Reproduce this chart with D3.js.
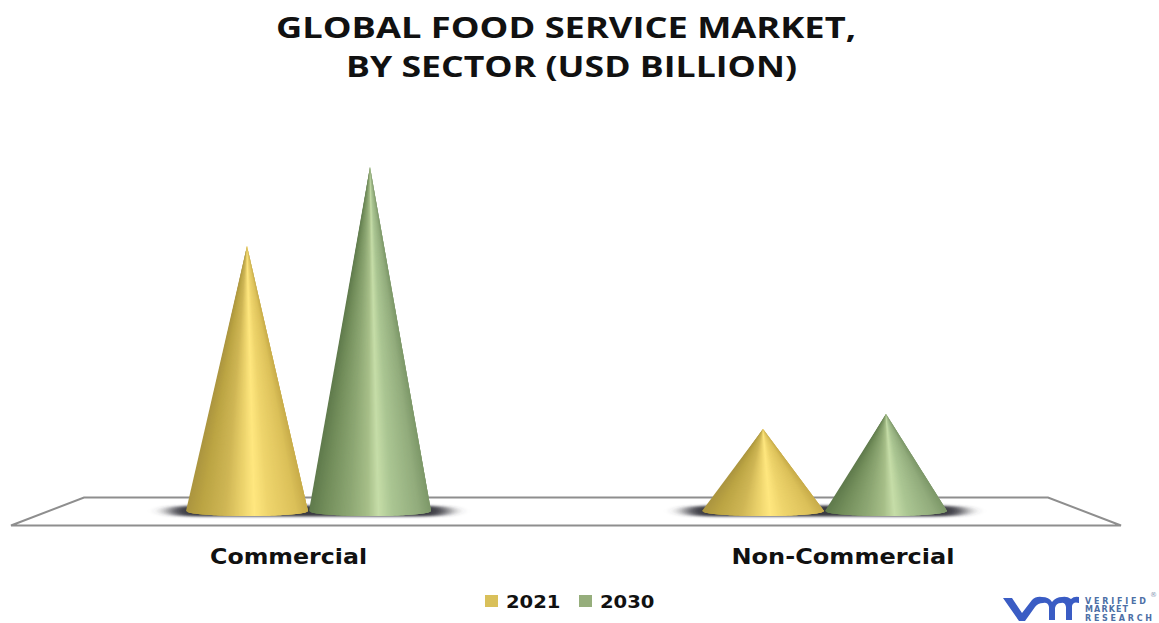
<!DOCTYPE html>
<html>
<head>
<meta charset="utf-8">
<script src="https://cdn.jsdelivr.net/npm/d3@7"></script>
<style>
  html, body { margin: 0; padding: 0; background: #fff; }
  svg { display: block; }
  text { fill: #111; }
</style>
</head>
<body>
<svg id="chart" width="1159" height="623"></svg>
<script>
// Market size per sector, in relative units (the chart has no printed value axis)
const categories = ["Commercial", "Non-Commercial"];
const years = ["2021", "2030"];
const values2021 = [265, 82];
const values2030 = [344, 97];
const titleLines = ["GLOBAL FOOD SERVICE MARKET,", "BY SECTOR (USD BILLION)"];

const seriesValues = { "2021": values2021, "2030": values2030 };
const svg = d3.select("#chart");
const defs = svg.append("defs");

// Shading across the cone's base, from its left rim to its right rim
const shades = {
  "2021": [[0, "#ab953f"], [0.12, "#bba443"], [0.32, "#cfb655"], [0.46, "#ecd36c"], [0.56, "#ffe77f"],
           [0.68, "#eed46c"], [0.9, "#dcc15a"], [1, "#c8ac4a"]],
  "2030": [[0, "#5f7a4c"], [0.14, "#748f5c"], [0.34, "#8ea874"], [0.48, "#a6be88"], [0.57, "#c6dda8"],
           [0.68, "#abc693"], [0.9, "#92ac7c"], [1, "#7d9869"]]
};
const shadeScale = {};
years.forEach(yr => {
  shadeScale[yr] = d3.scaleLinear()
    .domain(shades[yr].map(s => s[0]))
    .range(shades[yr].map(s => s[1]))
    .interpolate(d3.interpolateRgb);
});

defs.append("filter").attr("id", "soft").attr("x", "-15%").attr("width", "130%")
  .attr("y", "-100%").attr("height", "300%")
  .append("feGaussianBlur").attr("stdDeviation", "9 1.2");

// Scales: cones stand on the floor, height is proportional to the value
const x = d3.scaleBand().domain(categories).range([50.5, 1082.5]);
const xInner = d3.scaleBand().domain(years).range([-123, 123]);
const y = d3.scaleLinear().domain([0, 344]).range([511, 167]);

// Floor plane
const floorPts = [[11, 525.5], [84, 497.5], [1048, 497.5], [1121, 525.5]];
svg.append("path")
  .attr("d", d3.line()(floorPts) + "Z")
  .attr("fill", "#fff").attr("stroke", "#8e8e8e").attr("stroke-width", 2);

const centre = c => x(c) + x.bandwidth() / 2;

// Shadows beneath each pair of cones
svg.append("g").selectAll("rect").data(categories).join("rect")
  .attr("x", c => centre(c) - 140)
  .attr("y", 505.5)
  .attr("width", 281)
  .attr("height", 11)
  .attr("rx", 24)
  .attr("ry", 5.5)
  .attr("fill", "#3a3a42")
  .attr("filter", "url(#soft)");

// Cones: each is a fan of wedges from the tip, so the highlight narrows towards it.
// Every wedge overlaps the next one, which keeps the seams between them hidden.
const ry = 5;
const wedges = 90;
const radius = xInner.bandwidth() / 2 - 0.5;
const marks = categories.flatMap((c, i) =>
  years.map(yr => ({ c, yr, v: seriesValues[yr][i] })));
const cones = svg.append("g").selectAll("g").data(marks).join("g");
cones.selectAll("path")
  .data(d => d3.range(wedges).map(k => ({ ...d, k })))
  .join("path")
  .attr("d", d => {
    const cx = centre(d.c) + xInner(d.yr) + xInner.bandwidth() / 2;
    const rim = t => {
      const u = 2 * t - 1;
      return [cx + radius * u, y(0) + ry * Math.sqrt(Math.max(0, 1 - u * u))];
    };
    const p = d3.path();
    p.moveTo(cx, y(d.v));
    p.lineTo(...rim(d.k / wedges));
    p.lineTo(...rim(Math.min(1, (d.k + 1.5) / wedges)));
    p.lineTo(...rim(Math.min(1, (d.k + 3) / wedges)));
    p.closePath();
    return p.toString();
  })
  .attr("fill", d => shadeScale[d.yr]((d.k + 0.5) / wedges));

// Category labels sit slightly outboard of their cone pairs
const labelDx = d3.scaleOrdinal().domain(categories).range([-20, 18.5]);
const labelLen = d3.scaleOrdinal().domain(categories).range([157, 223]);
const axis = svg.append("g").attr("transform", "translate(0,548)")
  .call(d3.axisBottom(x).tickSize(0).tickPadding(0));
axis.select(".domain").remove();
axis.selectAll("text")
  .attr("dy", "0.8em")
  .attr("x", d => labelDx(d))
  .attr("textLength", d => labelLen(d))
  .attr("lengthAdjust", "spacingAndGlyphs")
  .style("font", "bold 20.5px 'DejaVu Sans'")
  .style("fill", "#111");

// Title
svg.append("g").selectAll("text").data(titleLines).join("text")
  .attr("x", (d, i) => i ? 571.5 : 566)
  .attr("y", (d, i) => i ? 77 : 38)
  .attr("text-anchor", "middle")
  .attr("textLength", (d, i) => i ? 451 : 580)
  .attr("lengthAdjust", "spacingAndGlyphs")
  .style("font", "bold 29px 'Open Sans'")
  .text(d => d);

// Legend
const legendColors = { "2021": "#d9c05a", "2030": "#96ae7c" };
const legendX = d3.scaleOrdinal().domain(years).range([485, 579]);
const legend = svg.append("g").selectAll("g").data(years).join("g")
  .attr("transform", d => `translate(${legendX(d)},0)`);
legend.append("rect").attr("y", 595).attr("width", 13).attr("height", 12)
  .attr("fill", d => legendColors[d]);
legend.append("text").attr("x", 21).attr("y", 607.5)
  .attr("textLength", 54.5)
  .attr("lengthAdjust", "spacingAndGlyphs")
  .style("font", "bold 18.5px 'DejaVu Sans'")
  .text(d => d);

// Publisher mark
const logo = svg.append("g");
logo.append("path")
  .attr("d", "M1003 598 L1012 598 L1022 613 L1032 600 Q1036 596 1042 597 Q1049 597 1052 602 Q1056 597 1062 597 Q1067 596 1071 599 Q1074 596 1079 597 L1079 603 Q1073 601 1072 606 L1072 620 L1066 620 L1066 607 Q1065 602 1061 603 Q1056 603 1055 608 L1055 620 L1049 620 L1049 607 Q1048 602 1043 603 Q1038 603 1035 607 L1025 621 L1019 621 Z")
  .attr("fill", "#3a5cc4");
const logoWords = ["VERIFIED", "MARKET", "RESEARCH"];
const logoLens = [61, 43, 67];
logo.selectAll("text").data(logoWords).join("text")
  .attr("x", 1085)
  .attr("y", (d, i) => 603.5 + i * 8.8)
  .attr("textLength", (d, i) => logoLens[i])
  .attr("lengthAdjust", "spacing")
  .style("font", "bold 8px 'DejaVu Sans'")
  .style("fill", "#4d6fa6")
  .text(d => d);
logo.append("text").attr("x", 1150).attr("y", 597)
  .style("font", "7px 'DejaVu Sans'").style("fill", "#8a9ab5").text("®");
</script>
</body>
</html>
